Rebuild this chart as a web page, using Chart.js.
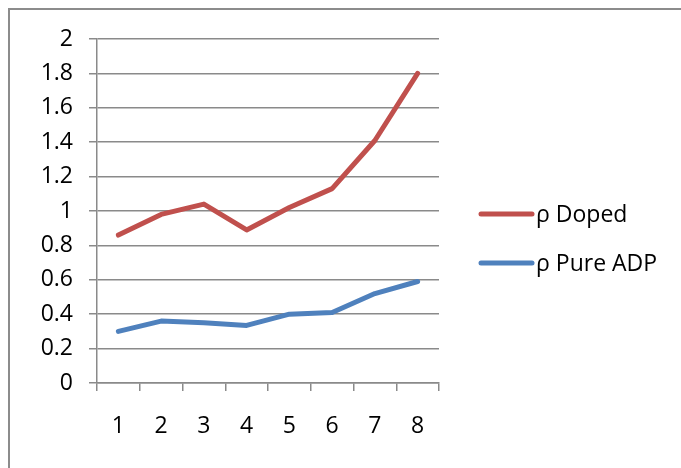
<!DOCTYPE html>
<html>
<head>
<meta charset="utf-8">
<script src="https://cdn.jsdelivr.net/npm/chart.js@4/dist/chart.umd.min.js"></script>
<style>
  html, body { margin: 0; padding: 0; background: #fff; }
  #wrap { width: 681px; height: 468px; }
</style>
</head>
<body>
<div id="wrap"><canvas id="chart" width="681" height="468"></canvas></div>
<script>
// data
const categories = ['1', '2', '3', '4', '5', '6', '7', '8'];
const dopedValues = [0.86, 0.98, 1.04, 0.89, 1.02, 1.13, 1.41, 1.80];
const pureValues = [0.30, 0.36, 0.35, 0.335, 0.40, 0.41, 0.52, 0.59];
const seriesNames = ['ρ Doped', 'ρ Pure ADP'];

const font = { family: '"Open Sans", Lato, sans-serif', size: 23 };
const gridGray = '#8a8a8a';

// frame round the whole chart (only top/left show in the picture)
const framePlugin = {
  id: 'frame',
  afterDraw(chart) {
    const ctx = chart.ctx;
    ctx.save();
    ctx.strokeStyle = '#8c8c8c';
    ctx.lineWidth = 2;
    ctx.strokeRect(9, 9, 700, 500);
    ctx.restore();
  }
};

// Excel style legend at the right
const legendPlugin = {
  id: 'sideLegend',
  afterDraw(chart) {
    const ctx = chart.ctx;
    ctx.save();
    ctx.font = font.size + 'px ' + font.family;
    ctx.textBaseline = 'middle';
    chart.data.datasets.forEach((ds, i) => {
      const y = 214 + i * 49;
      ctx.strokeStyle = ds.borderColor;
      ctx.lineWidth = 5;
      ctx.lineCap = 'round';
      ctx.beginPath();
      ctx.moveTo(481, y);
      ctx.lineTo(532, y);
      ctx.stroke();
      ctx.fillStyle = '#000';
      ctx.fillText(ds.label, 536, y + 1);
    });
    ctx.restore();
  }
};

new Chart(document.getElementById('chart'), {
  type: 'line',
  data: {
    labels: categories,
    datasets: [
      {
        label: seriesNames[0],
        data: dopedValues,
        borderColor: '#C0504D',
        borderWidth: 5,
        pointRadius: 0,
        tension: 0,
        borderCapStyle: 'round',
        borderJoinStyle: 'round'
      },
      {
        label: seriesNames[1],
        data: pureValues,
        borderColor: '#4F81BD',
        borderWidth: 5,
        pointRadius: 0,
        tension: 0,
        borderCapStyle: 'round',
        borderJoinStyle: 'round'
      }
    ]
  },
  options: {
    responsive: false,
    animation: false,
    events: [],
    layout: { padding: { left: 0, right: 242, top: 39, bottom: 0 } },
    plugins: { legend: { display: false }, tooltip: { enabled: false } },
    scales: {
      x: {
        offset: true,
        grid: {
          offset: true,
          drawOnChartArea: false,
          color: gridGray,
          lineWidth: 1.5,
          tickLength: 8
        },
        border: { color: gridGray, width: 1.5 },
        ticks: { color: '#000', font: font, padding: 22, maxRotation: 0 },
        afterFit(scale) { scale.height = 85; }
      },
      y: {
        min: 0,
        max: 2,
        grid: { color: gridGray, lineWidth: 1.5, tickLength: 8 },
        border: { color: gridGray, width: 1.5 },
        ticks: {
          stepSize: 0.2,
          color: '#000',
          font: font,
          padding: 16,
          callback: (v) => String(Number(v.toFixed(1)))
        },
        afterFit(scale) { scale.width = 97; }
      }
    }
  },
  plugins: [framePlugin, legendPlugin]
});
</script>
</body>
</html>
